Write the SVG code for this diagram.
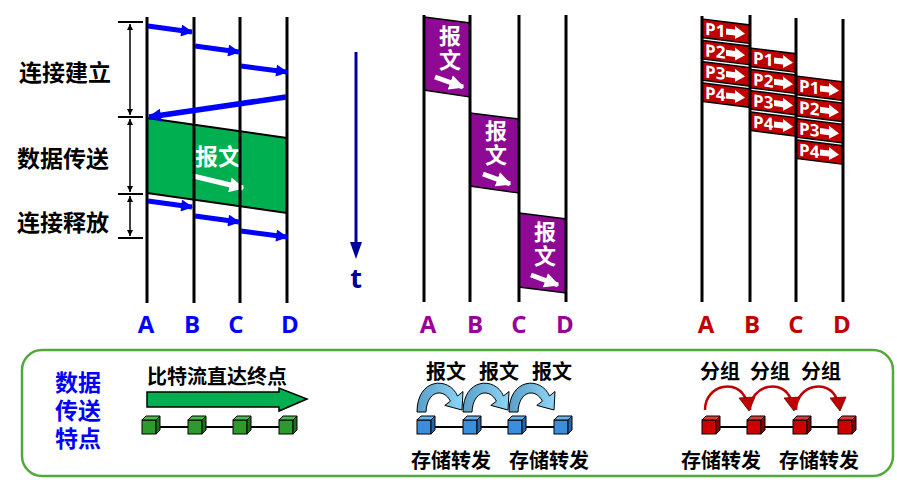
<svg xmlns="http://www.w3.org/2000/svg" width="897" height="480" viewBox="0 0 897 480">
<style>
.cjk{font-family:"Noto Sans CJK SC","Noto Sans",sans-serif;font-weight:bold}
.lat{font-family:"Open Sans","Noto Sans",sans-serif;font-weight:bold}
.vl{stroke:#000;stroke-width:3}
.tick{stroke:#000;stroke-width:2}
.blu{stroke:#0000FF;fill:none}
.pk{fill:#C00000;stroke:#000;stroke-width:1.5}
.pt{fill:#fff;font-size:17px}
.vt{writing-mode:vertical-rl;letter-spacing:2px}
</style>
<defs>
<marker id="ah" viewBox="0 0 10 10" refX="9" refY="5" markerWidth="3" markerHeight="2.4" orient="auto"><path d="M0,0 L10,5 L0,10 Z" fill="#0000FF"/></marker>
<marker id="ahw" viewBox="0 0 10 10" refX="9" refY="5" markerWidth="3" markerHeight="3" orient="auto"><path d="M0,0 L10,5 L0,10 Z" fill="#fff"/></marker>
<marker id="dbl" viewBox="0 0 10 10" refX="10" refY="5" markerWidth="7" markerHeight="4" orient="auto-start-reverse"><path d="M0,0 L10,5 L0,10 Z" fill="#000"/></marker>
<g id="cubeG" stroke="#000" stroke-width="1"><rect x="0" y="4" width="14" height="14" fill="#2E9A2E"/><path d="M0,4 L4,0 L18,0 L14,4 Z" fill="#4CBB4C"/><path d="M14,4 L18,0 L18,14 L14,18 Z" fill="#1F6E1F"/></g>
<g id="cubeB" stroke="#000" stroke-width="1"><rect x="0" y="4" width="14" height="14" fill="#3A8EDB"/><path d="M0,4 L4,0 L18,0 L14,4 Z" fill="#6AB4EC"/><path d="M14,4 L18,0 L18,14 L14,18 Z" fill="#2466A8"/></g>
<g id="cubeR" stroke="#000" stroke-width="1"><rect x="0" y="4" width="14" height="14" fill="#CC0000"/><path d="M0,4 L4,0 L18,0 L14,4 Z" fill="#E23A3A"/><path d="M14,4 L18,0 L18,14 L14,18 Z" fill="#8A0000"/></g>
<linearGradient id="bg" x1="0" y1="0" x2="1" y2="0"><stop offset="0" stop-color="#5A9FC8"/><stop offset="1" stop-color="#8ED6F6"/></linearGradient>
<path id="barc" d="M0,0 C0,-34 32,-36 40.5,-16 L46,-20.5 L45,-2 L27.8,-6.6 L33.4,-10.8 C27,-24 10,-22 9,0 Z" fill="url(#bg)" stroke="#000" stroke-width="1"/>
<g id="rarc"><path d="M0,0 C0,-26 34,-32 41,-10" fill="none" stroke="#C00000" stroke-width="2.5"/><path d="M34,-12 L50,-13 L44,1 Z" fill="#C00000" stroke="#600" stroke-width="0.8"/></g>
<g id="parr"><path d="M24,6.5 L33,6.5 L33,3 L43,9.5 L33,16 L33,12.5 L24,12.5 Z" fill="#fff"/></g>
</defs>

<!-- Section 1: circuit switching -->
<g id="sec1-labels" class="cjk" font-size="23" text-anchor="middle">
<text x="65" y="81">连接建立</text>
<text x="63" y="167">数据传送</text>
<text x="63" y="231">连接释放</text>
</g>
<g id="sec1-brackets">
<line class="tick" x1="118" y1="22" x2="143" y2="22"/>
<line class="tick" x1="118" y1="117" x2="143" y2="117"/>
<line class="tick" x1="118" y1="194" x2="143" y2="194"/>
<line class="tick" x1="118" y1="238" x2="143" y2="238"/>
<line x1="130" y1="24" x2="130" y2="115" stroke="#000" stroke-width="1.5" marker-start="url(#dbl)" marker-end="url(#dbl)"/>
<line x1="130" y1="119" x2="130" y2="192" stroke="#000" stroke-width="1.5" marker-start="url(#dbl)" marker-end="url(#dbl)"/>
<line x1="130" y1="196" x2="130" y2="236" stroke="#000" stroke-width="1.5" marker-start="url(#dbl)" marker-end="url(#dbl)"/>
</g>
<g id="sec1-data">
<polygon points="147,118 287,138 287,213 147,193" fill="#00B050"/>
<line x1="147" y1="118" x2="287" y2="138" stroke="#000" stroke-width="2"/>
<line x1="147" y1="193" x2="287" y2="213" stroke="#000" stroke-width="2"/>
<text class="cjk" x="218" y="165" font-size="23" fill="#fff" text-anchor="middle">报文</text>
<line x1="193" y1="176" x2="243" y2="188" stroke="#fff" stroke-width="5" marker-end="url(#ahw)"/>
</g>
<g id="sec1-lines">
<line class="vl" x1="147" y1="17" x2="147" y2="303"/>
<line class="vl" x1="194" y1="17" x2="194" y2="303"/>
<line class="vl" x1="240" y1="17" x2="240" y2="303"/>
<line class="vl" x1="287" y1="17" x2="287" y2="303"/>
</g>
<g id="connectors">
<line class="blu" stroke-width="5" x1="148" y1="26" x2="192" y2="32" marker-end="url(#ah)"/>
<line class="blu" stroke-width="5" x1="195" y1="46" x2="239" y2="52" marker-end="url(#ah)"/>
<line class="blu" stroke-width="5" x1="241" y1="66" x2="287" y2="72" marker-end="url(#ah)"/>
<line class="blu" stroke-width="5.5" x1="286" y1="97" x2="149" y2="117" marker-end="url(#ah)"/>
<line class="blu" stroke-width="5" x1="148" y1="201" x2="192" y2="207" marker-end="url(#ah)"/>
<line class="blu" stroke-width="5" x1="195" y1="216" x2="239" y2="222" marker-end="url(#ah)"/>
<line class="blu" stroke-width="5" x1="241" y1="231" x2="287" y2="237" marker-end="url(#ah)"/>
</g>
<g id="sec1-abcd" class="lat" font-size="24" fill="#0000FF" text-anchor="middle">
<text x="146" y="333">A</text><text x="192" y="333">B</text><text x="236" y="333">C</text><text x="290" y="333">D</text>
</g>

<!-- time axis -->
<g id="time">
<line x1="356" y1="52" x2="356" y2="244" stroke="#000099" stroke-width="3"/>
<polygon points="350,242 362,242 356,259" fill="#000099"/>
<text class="lat" x="356" y="288" font-size="27" fill="#000099" text-anchor="middle">t</text>
</g>

<!-- Section 2: message switching -->
<g id="sec2-boxes">
<polygon points="424,17 470,23 470,97 424,90" fill="#8E0A94" stroke="#000" stroke-width="1.5"/>
<polygon points="470,113 519,119 519,193 470,186" fill="#8E0A94" stroke="#000" stroke-width="1.5"/>
<polygon points="519,213 566,219 566,293 519,287" fill="#8E0A94" stroke="#000" stroke-width="1.5"/>
<g class="cjk vt" font-size="22" fill="#fff">
<text x="450" y="25">报文</text>
<text x="496" y="120">报文</text>
<text x="545" y="221">报文</text>
</g>
<line x1="435" y1="77" x2="463" y2="87" stroke="#fff" stroke-width="5" marker-end="url(#ahw)"/>
<line x1="483" y1="174" x2="510" y2="184" stroke="#fff" stroke-width="5" marker-end="url(#ahw)"/>
<line x1="531" y1="275" x2="558" y2="285" stroke="#fff" stroke-width="5" marker-end="url(#ahw)"/>
</g>
<g id="sec2-lines">
<line class="vl" x1="424" y1="15" x2="424" y2="302"/>
<line class="vl" x1="470" y1="15" x2="470" y2="302"/>
<line class="vl" x1="519" y1="15" x2="519" y2="302"/>
<line class="vl" x1="566" y1="15" x2="566" y2="302"/>
</g>
<g id="sec2-abcd" class="lat" font-size="24" fill="#990099" text-anchor="middle">
<text x="428" y="333">A</text><text x="475" y="333">B</text><text x="519" y="333">C</text><text x="565" y="333">D</text>
</g>

<!-- Section 3: packet switching -->
<g id="sec3-packets" class="lat">
<g transform="translate(702,19) skewY(7.1)"><rect class="pk" width="48" height="18.5"/><text class="pt" x="3" y="15.5">P1</text><use href="#parr"/></g>
<g transform="translate(702,40.3) skewY(7.1)"><rect class="pk" width="48" height="18.5"/><text class="pt" x="3" y="15.5">P2</text><use href="#parr"/></g>
<g transform="translate(702,61.6) skewY(7.1)"><rect class="pk" width="48" height="18.5"/><text class="pt" x="3" y="15.5">P3</text><use href="#parr"/></g>
<g transform="translate(702,82.9) skewY(7.1)"><rect class="pk" width="48" height="18.5"/><text class="pt" x="3" y="15.5">P4</text><use href="#parr"/></g>
<g transform="translate(750,48) skewY(7.1)"><rect class="pk" width="46" height="18.5"/><text class="pt" x="3" y="15.5">P1</text><use href="#parr"/></g>
<g transform="translate(750,69.3) skewY(7.1)"><rect class="pk" width="46" height="18.5"/><text class="pt" x="3" y="15.5">P2</text><use href="#parr"/></g>
<g transform="translate(750,90.6) skewY(7.1)"><rect class="pk" width="46" height="18.5"/><text class="pt" x="3" y="15.5">P3</text><use href="#parr"/></g>
<g transform="translate(750,111.9) skewY(7.1)"><rect class="pk" width="46" height="18.5"/><text class="pt" x="3" y="15.5">P4</text><use href="#parr"/></g>
<g transform="translate(796,76) skewY(7.1)"><rect class="pk" width="47" height="18.5"/><text class="pt" x="3" y="15.5">P1</text><use href="#parr"/></g>
<g transform="translate(796,97.3) skewY(7.1)"><rect class="pk" width="47" height="18.5"/><text class="pt" x="3" y="15.5">P2</text><use href="#parr"/></g>
<g transform="translate(796,118.6) skewY(7.1)"><rect class="pk" width="47" height="18.5"/><text class="pt" x="3" y="15.5">P3</text><use href="#parr"/></g>
<g transform="translate(796,139.9) skewY(7.1)"><rect class="pk" width="47" height="18.5"/><text class="pt" x="3" y="15.5">P4</text><use href="#parr"/></g>
</g>
<g id="sec3-lines">
<line class="vl" x1="702" y1="16" x2="702" y2="302"/>
<line class="vl" x1="750" y1="15" x2="750" y2="302"/>
<line class="vl" x1="796" y1="18" x2="796" y2="302"/>
<line class="vl" x1="843" y1="19" x2="843" y2="302"/>
</g>
<g id="sec3-abcd" class="lat" font-size="24" fill="#C00000" text-anchor="middle">
<text x="706" y="333">A</text><text x="752" y="333">B</text><text x="796" y="333">C</text><text x="842" y="333">D</text>
</g>

<!-- Bottom panel -->
<g id="panel">
<rect x="22" y="350" width="871" height="126" rx="20" ry="20" fill="none" stroke="#52A83A" stroke-width="2.5"/>
<text class="cjk" font-size="23" fill="#0000FF" text-anchor="middle"><tspan x="78" y="391">数据</tspan><tspan x="78" y="419">传送</tspan><tspan x="78" y="447">特点</tspan></text>
</g>
<g id="bit-stream">
<text class="cjk" x="147" y="384" font-size="20">比特流直达终点</text>
<polygon points="147,392 279,392 279,388 307,399 279,411 279,407 147,407" fill="#00B050" stroke="#000" stroke-width="1.5"/>
<line x1="150" y1="427" x2="290" y2="427" stroke="#000" stroke-width="2"/>
<use href="#cubeG" x="142" y="416"/><use href="#cubeG" x="188" y="416"/><use href="#cubeG" x="233" y="416"/><use href="#cubeG" x="279" y="416"/>
</g>
<g id="msg-forward">
<g class="cjk" font-size="20" text-anchor="middle">
<text x="446" y="379">报文</text><text x="499" y="379">报文</text><text x="552" y="379">报文</text>
<text x="451" y="468">存储转发</text><text x="549" y="468">存储转发</text>
</g>
<use href="#barc" x="417" y="412"/><use href="#barc" x="463" y="412"/><use href="#barc" x="509" y="412"/>
<line x1="425" y1="427" x2="565" y2="427" stroke="#000" stroke-width="2"/>
<use href="#cubeB" x="417" y="416"/><use href="#cubeB" x="463" y="416"/><use href="#cubeB" x="508" y="416"/><use href="#cubeB" x="554" y="416"/>
</g>
<g id="pkt-forward">
<g class="cjk" font-size="20" text-anchor="middle">
<text x="720" y="379">分组</text><text x="770" y="379">分组</text><text x="821" y="379">分组</text>
<text x="721" y="468">存储转发</text><text x="819" y="468">存储转发</text>
</g>
<use href="#rarc" x="705" y="410"/><use href="#rarc" x="750" y="410"/><use href="#rarc" x="796" y="410"/>
<line x1="710" y1="427" x2="850" y2="427" stroke="#000" stroke-width="2"/>
<use href="#cubeR" x="702" y="416"/><use href="#cubeR" x="747" y="416"/><use href="#cubeR" x="793" y="416"/><use href="#cubeR" x="838" y="416"/>
</g>
</svg>
